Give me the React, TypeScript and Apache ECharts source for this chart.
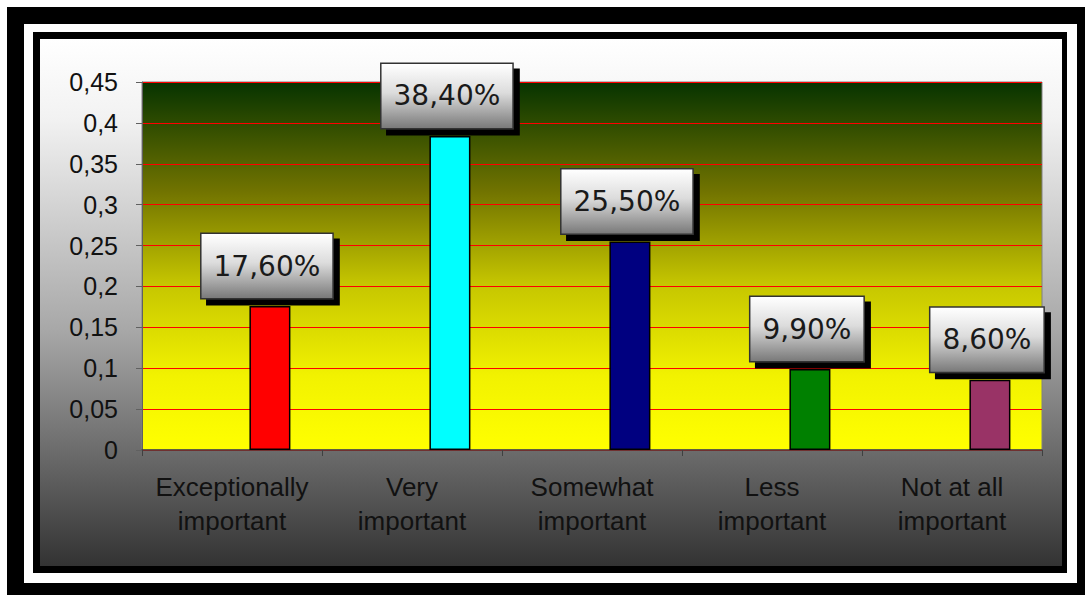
import React, { useEffect, useRef } from "react";
import * as echarts from "echarts";

const categories = [
  "Exceptionally\nimportant",
  "Very\nimportant",
  "Somewhat\nimportant",
  "Less\nimportant",
  "Not at all\nimportant",
];
const values = [0.176, 0.384, 0.255, 0.099, 0.086];
const emptySlot = ["-", "-", "-", "-", "-"];
const barColors = ["#ff0000", "#00ffff", "#000080", "#008000", "#993366"];
const yTicks = { min: 0, max: 0.45, interval: 0.05 };

const fmtAxis = (v: number) => String(Math.round(v * 100) / 100).replace(".", ",");
const fmtPct = (v: number) => (v * 100).toFixed(2).replace(".", ",") + "%";

export default function App() {
  const ref = useRef<HTMLDivElement>(null);
  useEffect(() => {
    if (!ref.current) return;
    const chart = echarts.init(ref.current, undefined, { renderer: "svg" });
    const plotBg = new echarts.graphic.LinearGradient(0, 0, 0, 1, [
      { offset: 0, color: "#063300" },
      { offset: 0.3, color: "#727400" },
      { offset: 0.55, color: "#c6c600" },
      { offset: 0.8, color: "#f2f200" },
      { offset: 1, color: "#ffff00" },
    ]);
    const boxBg = new echarts.graphic.LinearGradient(0, 0, 0, 1, [
      { offset: 0, color: "#ffffff" },
      { offset: 0.45, color: "#dcdcdc" },
      { offset: 1, color: "#7a7a7a" },
    ]);
    chart.setOption({
      animation: false,
      grid: {
        left: 142,
        right: 43,
        top: 82,
        bottom: 145,
        show: true,
        backgroundColor: plotBg,
        borderColor: "#808080",
        borderWidth: 1,
      },
      xAxis: {
        type: "category",
        data: categories,
        axisLine: { show: true, lineStyle: { color: "#404040", width: 1.5 } },
        axisTick: { show: true, length: 6, lineStyle: { color: "#404040" } },
        axisLabel: {
          interval: 0,
          hideOverlap: false,
          color: "#111",
          fontFamily: "Liberation Sans, Arial, sans-serif",
          fontSize: 26,
          lineHeight: 34,
          margin: 20,
        },
      },
      yAxis: {
        type: "value",
        min: yTicks.min,
        max: yTicks.max,
        interval: yTicks.interval,
        axisLine: { show: true, lineStyle: { color: "#606060" } },
        axisTick: { show: true, length: 6, lineStyle: { color: "#606060" } },
        splitLine: { show: true, lineStyle: { color: "#ff0000", width: 1 } },
        axisLabel: {
          color: "#111",
          fontFamily: "Liberation Sans, Arial, sans-serif",
          fontSize: 25,
          margin: 24,
          formatter: (v: number) => fmtAxis(v),
        },
      },
      series: [
        {
          type: "bar",
          barWidth: 41,
          barGap: "85%",
          data: emptySlot,
          silent: true,
        },
        {
          type: "bar",
          barWidth: 41,
          barGap: "85%",
          data: values.map((v, i) => ({
            value: v,
            itemStyle: { color: barColors[i], borderColor: "#000", borderWidth: 1.5 },
          })),
          label: {
            show: true,
            position: "top",
            distance: 8,
            offset: [-3, 0],
            formatter: (p: any) => fmtPct(p.value),
            fontFamily: "DejaVu Sans, Verdana, sans-serif",
            fontSize: 28,
            lineHeight: 28,
            color: "#1a1a1a",
            backgroundColor: boxBg,
            borderColor: "#333",
            borderWidth: 1.5,
            padding: [18, 12],
            shadowColor: "#000",
            shadowBlur: 0,
            shadowOffsetX: 6,
            shadowOffsetY: 6,
          },
        },
      ],
    });
    return () => chart.dispose();
  }, []);

  const abs = (l: number, t: number, w: number, h: number, bg: string): React.CSSProperties => ({
    position: "absolute",
    left: l,
    top: t,
    width: w,
    height: h,
    background: bg,
  });

  return (
    <div style={{ position: "fixed", left: 0, top: 0, width: 1085, height: 595, background: "#fff", overflow: "hidden" }}>
      <div style={abs(7, 7, 1078, 588, "#000")} />
      <div style={abs(24, 24, 1053, 559, "#fff")} />
      <div style={abs(33, 32, 1034, 541, "#000")} />
      <div style={abs(40, 39, 1022, 527, "linear-gradient(to bottom, #ffffff 0%, #f2f2f2 15%, #a8a8a8 55%, #333333 100%)")} />
      <div ref={ref} style={{ position: "absolute", left: 0, top: 0, width: 1085, height: 595 }} />
    </div>
  );
}
